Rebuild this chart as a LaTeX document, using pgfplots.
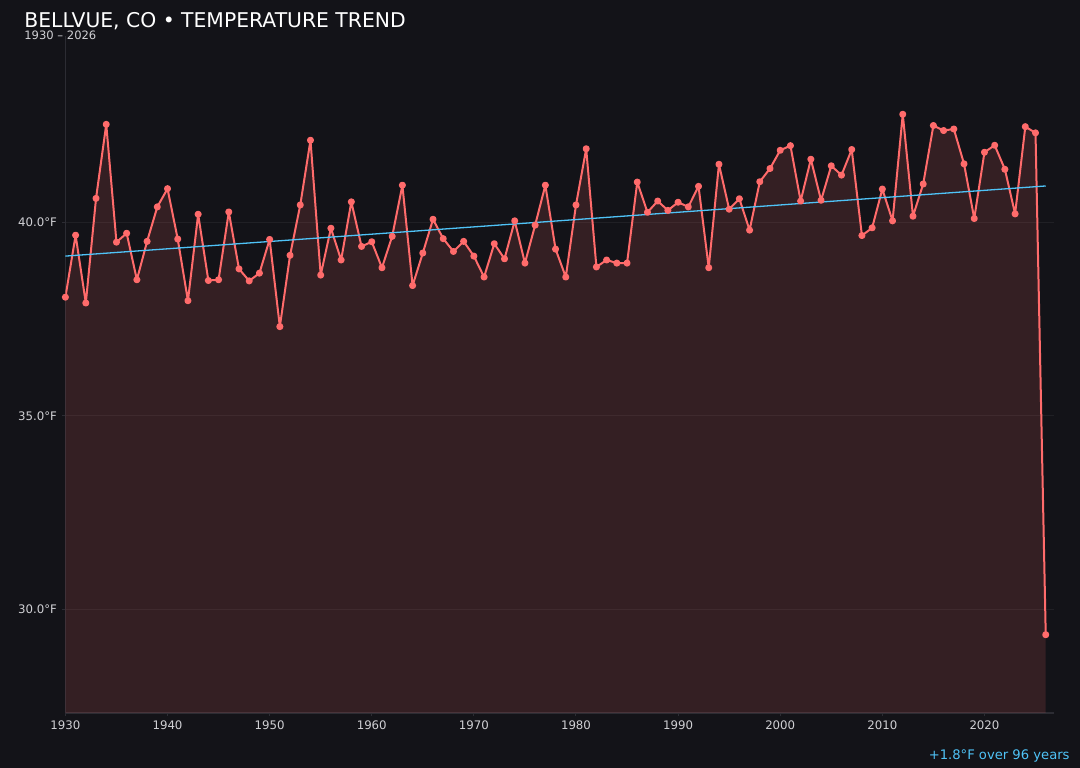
\documentclass[border=0pt]{standalone}
\usepackage{fontspec}
\setmainfont{DejaVu Sans}
\usepackage{pgfplots}
\pgfplotsset{compat=1.18}

\definecolor{bg}{HTML}{131318}
\definecolor{tempred}{HTML}{FF6B6B}
\definecolor{trendblue}{HTML}{4FC3F7}
\definecolor{ticktext}{HTML}{D0D0D4}
\definecolor{spine}{HTML}{2C2C33}

\begin{document}
\begin{tikzpicture}
\fill[bg] (0bp,0bp) rectangle (540bp,384bp);
\useasboundingbox (0bp,0bp) rectangle (540bp,384bp);

\begin{axis}[
  at={(32.7bp,27.5bp)}, anchor=south west,
  scale only axis,
  width=494.5bp, height=338.5bp,
  xmin=1930, xmax=2026.85,
  ymin=27.33, ymax=44.8,
  axis x line*=bottom, axis y line*=left,
  axis line style={spine, line width=0.6pt, -},
  xtick={1930,1940,...,2020},
  ytick={30,35,40},
  ymajorgrids,
  grid style={white, opacity=0.06, line width=0.5pt},
  tick align=outside,
  major tick length=1.5bp,
  tick style={spine, line width=0.5pt},
  /pgf/number format/assume math mode=true,
  xticklabel style={font=\fontsize{5.9}{6}\selectfont, text=ticktext, inner sep=0pt, yshift=-2.4bp,
    /pgf/number format/1000 sep={}},
  yticklabel style={font=\fontsize{5.9}{6}\selectfont, text=ticktext, inner sep=0pt, xshift=-2.5bp},
  yticklabel={\pgfmathprintnumber[fixed,fixed zerofill,precision=1]{\tick}°F},
]

\pgfplotstableread{
year temp
1930 38.06
1931 39.66
1932 37.91
1933 40.61
1934 42.52
1935 39.48
1936 39.71
1937 38.51
1938 39.50
1939 40.39
1940 40.86
1941 39.56
1942 37.97
1943 40.20
1944 38.49
1945 38.51
1946 40.26
1947 38.79
1948 38.48
1949 38.68
1950 39.55
1951 37.30
1952 39.14
1953 40.44
1954 42.11
1955 38.63
1956 39.84
1957 39.02
1958 40.52
1959 39.37
1960 39.49
1961 38.82
1962 39.63
1963 40.95
1964 38.36
1965 39.20
1966 40.07
1967 39.57
1968 39.24
1969 39.50
1970 39.12
1971 38.58
1972 39.44
1973 39.05
1974 40.03
1975 38.94
1976 39.92
1977 40.95
1978 39.30
1979 38.58
1980 40.44
1981 41.89
1982 38.84
1983 39.02
1984 38.94
1985 38.94
1986 41.03
1987 40.25
1988 40.54
1989 40.30
1990 40.51
1991 40.39
1992 40.92
1993 38.82
1994 41.49
1995 40.33
1996 40.60
1997 39.79
1998 41.04
1999 41.38
2000 41.85
2001 41.97
2002 40.54
2003 41.62
2004 40.56
2005 41.45
2006 41.21
2007 41.87
2008 39.65
2009 39.85
2010 40.85
2011 40.03
2012 42.78
2013 40.15
2014 40.98
2015 42.49
2016 42.36
2017 42.40
2018 41.50
2019 40.09
2020 41.80
2021 41.98
2022 41.36
2023 40.21
2024 42.46
2025 42.30
2026 29.35
}\temps

% shaded area under the series
\addplot[draw=none, fill=tempred, fill opacity=0.14] table[x=year, y=temp] {\temps} \closedcycle;

% yearly means
\addplot[tempred, line width=1bp, line join=round, mark=*, mark size=1.25bp,
  mark options={fill=tempred, draw=tempred}] table[x=year, y=temp] {\temps};

% linear trend
\addplot[trendblue, line width=0.65bp] coordinates {(1930,39.12) (2026,40.93)};
\end{axis}

\node[anchor=base west, inner sep=0pt, text=white, font=\fontsize{10.2}{12}\selectfont]
  at (12bp,370bp) {BELLVUE, CO • TEMPERATURE TREND};
\node[anchor=base west, inner sep=0pt, text=ticktext, font=\fontsize{5.8}{7}\selectfont]
  at (12bp,364.2bp) {1930 – 2026};
\node[anchor=base east, inner sep=0pt, text=trendblue, font=\fontsize{6.6}{8}\selectfont]
  at (535bp,4.2bp) {+1.8°F over 96 years};
\end{tikzpicture}
\end{document}
